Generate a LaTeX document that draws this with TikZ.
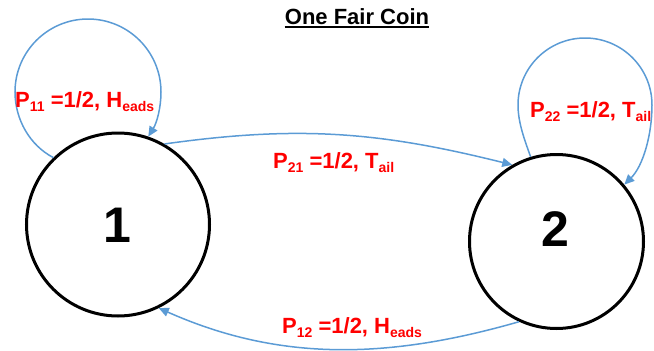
\documentclass[tikz,border=0pt]{standalone}
\usepackage{fontspec}
\setmainfont{Liberation Sans}
\usetikzlibrary{arrows.meta}
\definecolor{edgeblue}{RGB}{91,155,213}
\definecolor{labred}{RGB}{255,0,0}
\newcommand{\sbs}[1]{\raisebox{-4.5pt}{\fontsize{14}{14}\selectfont #1}}
\tikzset{
  state/.style={circle, draw=black, line width=3pt, inner sep=0pt},
  digit/.style={font=\fontsize{50}{50}\selectfont\bfseries, inner sep=0pt},
  trans/.style={draw=edgeblue, line width=1.5pt, -{Triangle[length=10pt,width=9pt]}},
  prob/.style={font=\fontsize{22}{22}\selectfont\bfseries, text=labred, inner sep=0pt, anchor=base west},
}
\begin{document}
\begin{tikzpicture}[x=1pt,y=-1pt]
\useasboundingbox (0,0) rectangle (654,351);
% title
\node[font=\fontsize{22}{22}\selectfont\bfseries, inner sep=0pt, anchor=base] (title) at (357,24) {One Fair Coin};
\draw[line width=1.8pt] ([yshift=-3.2pt]title.base west) -- ([yshift=-3.2pt]title.base east);
% states
\node[state, minimum size=183pt] (c1) at (118,224.5) {};
\node[state, minimum size=174pt] (c2) at (556.5,241.5) {};
\node[digit] (d1) at (117,225) {1};
\node[digit] (d2) at (555,229) {2};
% self loop on 1
\coordinate (l1l) at (15,92);
\coordinate (l1t) at (88,19);
\coordinate (l1r) at (161,92);
\draw[trans] (c1.134) .. controls (30,145.5) and (15,119.6) .. (l1l)
  .. controls (15,51.7) and (47.7,19) .. (l1t)
  .. controls (128.3,19) and (161,51.7) .. (l1r)
  .. controls (161,107.2) and (157,122.5) .. (c1.71);
% self loop on 2
\coordinate (l2l) at (518,105);
\coordinate (l2t) at (585,38);
\coordinate (l2r) at (652,105);
\draw[trans] (c2.107) .. controls (525,141) and (518,123) .. (l2l)
  .. controls (518,68) and (548,38) .. (l2t)
  .. controls (622,38) and (652,68) .. (l2r)
  .. controls (652,135) and (643,166) .. (c2.40);
% 1 -> 2
\draw[trans] (c1.60) to[out=8, in=166] (c2.120);
% 2 -> 1
\draw[trans] (c2.245) to[out=196, in=-24, looseness=0.95] (c1.296);
% labels
\node[prob] (p11) at (15,107) {P\sbs{11} =1/2, H\sbs{eads}};
\node[prob] (p21) at (273,168) {P\sbs{21} =1/2, T\sbs{ail}};
\node[prob] (p22) at (530,117) {P\sbs{22} =1/2, T\sbs{ail}};
\node[prob] (p12) at (282,333) {P\sbs{12} =1/2, H\sbs{eads}};
\end{tikzpicture}
\end{document}
